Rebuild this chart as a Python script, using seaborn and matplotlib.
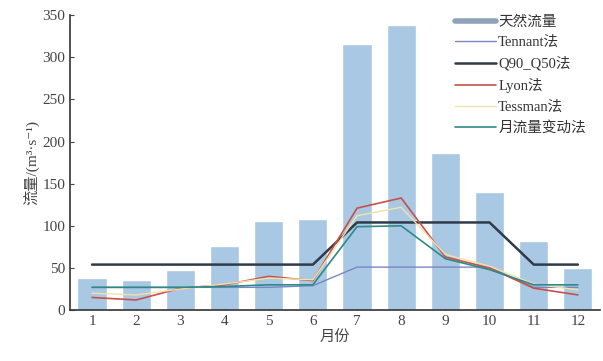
import numpy as np
import pandas as pd
import seaborn as sns
import matplotlib.pyplot as plt
from matplotlib.lines import Line2D

months = [str(m) for m in range(1, 13)]
natural = [38, 36, 48, 76, 106, 108, 316, 338, 186, 140, 82, 50]
tennant = [27, 27, 27, 27, 27, 29, 51, 51, 51, 51, 27, 27]
q90_q50 = [54, 54, 54, 54, 54, 54, 104, 104, 104, 104, 54, 54]
lyon = [15, 12, 26, 30, 40, 35, 121, 133, 63, 50, 26, 18]
tessman = [20, 18, 25, 31, 38, 36, 112, 122, 66, 52, 31, 24]
monthly_var = [27, 27, 27, 28, 30, 30, 99, 100, 61, 48, 30, 30]

series = [
    ('Tennant法', tennant, '#7a86c4', 1.0),
    ('Q90_Q50法', q90_q50, '#2e3b48', 1.8),
    ('Lyon法', lyon, '#c8504a', 1.2),
    ('Tessman法', tessman, '#f3e2a6', 1.0),
    ('月流量变动法', monthly_var, '#2d8a86', 1.2),
]

sns.set_style('ticks')
plt.rcParams['font.family'] = ['Liberation Serif', 'Noto Sans CJK SC', 'DejaVu Sans']
plt.rcParams['axes.unicode_minus'] = False

fig = plt.figure(figsize=(6.03, 3.61), dpi=100)
ax = fig.add_axes([0.116, 0.141, 0.879, 0.817])

bars = pd.DataFrame({'month': months, 'flow': natural})
sns.barplot(data=bars, x='month', y='flow', color='#a9c8e4', saturation=1,
            width=0.66, ax=ax)

pos = np.arange(len(months))
handles = [Line2D([], [], color='#8fa3b8', lw=4)]
labels = ['天然流量']
for (name, vals, color, lw) in series:
    sns.lineplot(x=pos, y=vals, color=color, lw=lw, ax=ax)
    handles.append(Line2D([], [], color=color, lw=lw))
    labels.append(name)

ax.set_xlim(-0.5, 11.5)
ax.set_ylim(0, 350)
ax.set_yticks(range(0, 351, 50))
ax.tick_params(axis='both', direction='in', length=3, labelsize=11,
               colors='#444444')
ax.set_xlabel('月份', fontsize=11, color='#444444', labelpad=2)
ax.set_ylabel('流量/(m³·s⁻¹)', fontsize=11, color='#444444', labelpad=2)
for s in ('top', 'right'):
    ax.spines[s].set_visible(False)
for s in ('left', 'bottom'):
    ax.spines[s].set_color('#333333')
    ax.spines[s].set_linewidth(1.2)

ax.legend(handles, labels, loc='upper right', bbox_to_anchor=(0.99, 1.03),
          frameon=False, fontsize=10.5, handlelength=2.8, handletextpad=0.15,
          labelspacing=0.5, borderpad=0.1, labelcolor='#333333')

fig.savefig('out.png', dpi=100)
